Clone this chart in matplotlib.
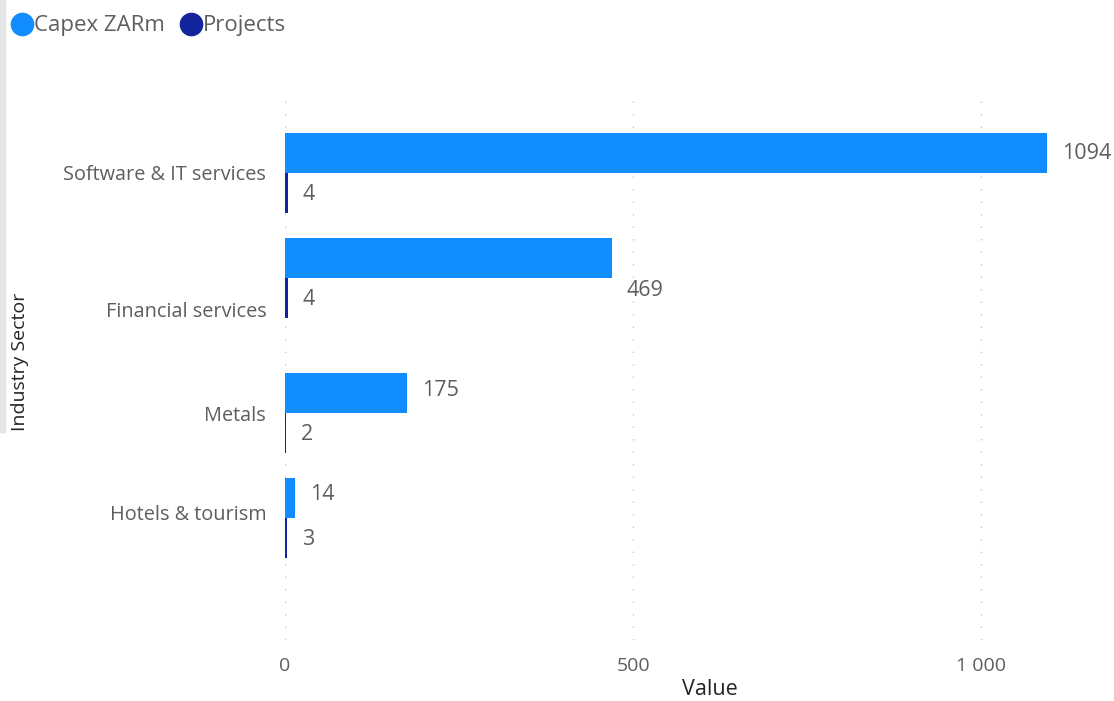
import matplotlib.pyplot as plt
from matplotlib.patches import Rectangle
from matplotlib.lines import Line2D
from matplotlib.transforms import offset_copy

plt.rcParams['font.family'] = ['Open Sans', 'DejaVu Sans']

sectors = ['Software & IT services', 'Financial services', 'Metals', 'Hotels & tourism']
capex = [1094, 469, 175, 14]
projects = [4, 4, 2, 3]

capex_color = '#118DFF'
projects_color = '#12239E'
text_color = '#605E5C'

# group slots on the category axis (the report spaces them unevenly)
slots = [0, 1, 2.286, 3.286]
label_slots = [0, 1.305, 2.295, 3.238]
bar_h = 0.381

fig = plt.figure(figsize=(11.14, 7.01), dpi=100)
ax = fig.add_axes([285 / 1114, 1 - 640 / 701, 825 / 1114, 542 / 701])

ax.barh([s - bar_h / 2 for s in slots], capex, height=bar_h, color=capex_color, zorder=2)
ax.barh([s + bar_h / 2 for s in slots], projects, height=bar_h, color=projects_color, zorder=2)

# data labels, nudged in pixels from the bar end
capex_nudge = [(15, -1), (15, -33), (15, 2), (15, 3)]
for s, v, (dx, dy) in zip(slots, capex, capex_nudge):
    tr = offset_copy(ax.transData, fig=fig, x=dx, y=dy, units='dots')
    ax.text(v, s - bar_h / 2, str(v), transform=tr, ha='left', va='center',
            fontsize=15.5, color=text_color)
for s, v in zip(slots, projects):
    tr = offset_copy(ax.transData, fig=fig, x=15, y=-2, units='dots')
    ax.text(v, s + bar_h / 2, str(v), transform=tr, ha='left', va='center',
            fontsize=15.5, color=text_color)

ax.set_xlim(0, 1185)
ax.set_ylim(4.448, -0.714)
ax.set_xticks([0, 500, 1000])
ax.set_xticklabels(['0', '500', '1 000'])
ax.set_yticks(label_slots)
ax.set_yticklabels(sectors)
ax.tick_params(axis='both', length=0, labelcolor=text_color)
ax.tick_params(axis='x', pad=12, labelsize=14)
ax.tick_params(axis='y', pad=13.5, labelsize=14.3)

ax.grid(axis='x', color='#C8C6C4', linestyle=(0, (1, 8)), linewidth=1, zorder=0)
for sp in ax.spines.values():
    sp.set_visible(False)

ax.set_xlabel('Value', fontsize=15.5, color='#252423', va='center')
ax.xaxis.set_label_coords(0.515, -0.092)
fig.text(20 / 1114, 1 - 362 / 701, 'Industry Sector', rotation=90, ha='center', va='center',
         fontsize=14, color='#252423')

# legend row
handles = [Line2D([], [], marker='o', linestyle='', markersize=16, color=c)
           for c in (capex_color, projects_color)]
fig.legend(handles, ['Capex ZARm', 'Projects'], loc='upper left',
           bbox_to_anchor=(-0.003, 1 - 2 / 701),
           ncol=2, frameon=False, fontsize=16, labelcolor=text_color, handletextpad=0.0,
           columnspacing=0.6, borderaxespad=0.2, handlelength=1.1)

# thin grey strip on the left edge
fig.patches.append(Rectangle((0, 1 - 432 / 701), 5 / 1114, 432 / 701,
                             transform=fig.transFigure, color='#E6E6E6', zorder=0))

fig.savefig('out.png', dpi=100)
